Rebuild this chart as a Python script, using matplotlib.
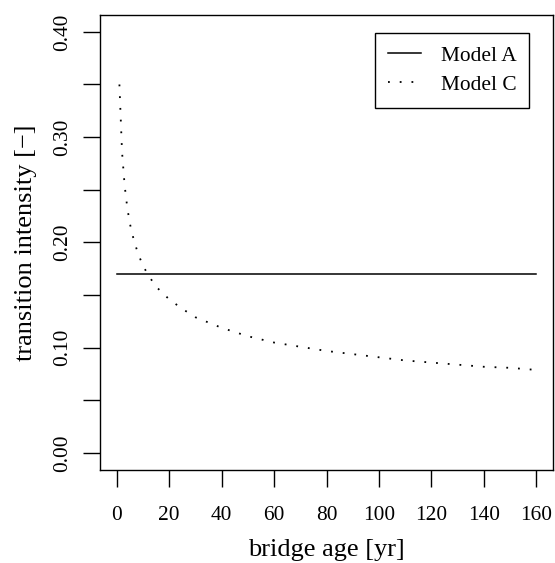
import numpy as np
import matplotlib.pyplot as plt

plt.rcParams['font.family'] = ['Liberation Serif', 'DejaVu Serif']
plt.rcParams['font.size'] = 15.4

# Model A: constant intensity
age_a = [0, 160]
model_a = [0.17, 0.17]

# Model C: decreasing intensity
age_c = [1, 2, 3, 4, 5, 6, 8, 10, 12, 15, 20, 25, 30, 40, 50, 60, 70, 80,
         90, 100, 110, 120, 130, 140, 150, 160]
model_c = [0.350, 0.286, 0.254, 0.233, 0.218, 0.207, 0.190, 0.178, 0.169,
           0.158, 0.146, 0.137, 0.129, 0.119, 0.111, 0.105, 0.101, 0.097,
           0.094, 0.091, 0.088, 0.086, 0.084, 0.082, 0.081, 0.079]

xticks = [0, 20, 40, 60, 80, 100, 120, 140, 160]
yticks = [0.00, 0.05, 0.10, 0.15, 0.20, 0.25, 0.30, 0.35, 0.40]
ylabels = ['0.00', '', '0.10', '', '0.20', '', '0.30', '', '0.40']

fig = plt.figure(figsize=(5.55, 5.63), dpi=100)
ax = fig.add_axes([0.1802, 0.1652, 0.8162, 0.8082])

ax.plot(age_a, model_a, color='black', lw=1.1, label='Model A')
ax.plot(age_c, model_c, color='black', lw=1.3, linestyle=(0, (1, 5.5)), label='Model C')

ax.set_xlim(-6.4, 166.4)
ax.set_ylim(-0.016, 0.416)
ax.set_xticks(xticks)
ax.set_yticks(yticks)
ax.set_yticklabels(ylabels, rotation=90, va='center')
ax.tick_params(axis='both', direction='out', length=12, width=1)
ax.tick_params(axis='x', pad=14)
ax.tick_params(axis='y', pad=8)
for s in ax.spines.values():
    s.set_linewidth(1)

ax.set_xlabel('bridge age [yr]', fontsize=19, labelpad=10)
ax.set_ylabel('transition intensity [\u2212]', fontsize=19, labelpad=12)

leg = ax.legend(loc='upper right', bbox_to_anchor=(0.947, 0.960), borderaxespad=0,
                fancybox=False, edgecolor='black', framealpha=1, handlelength=1.55,
                handletextpad=0.9, labelspacing=0.42, borderpad=0.6, fontsize=15.4)
leg.get_frame().set_linewidth(1)

fig.savefig('out.png', dpi=100)
